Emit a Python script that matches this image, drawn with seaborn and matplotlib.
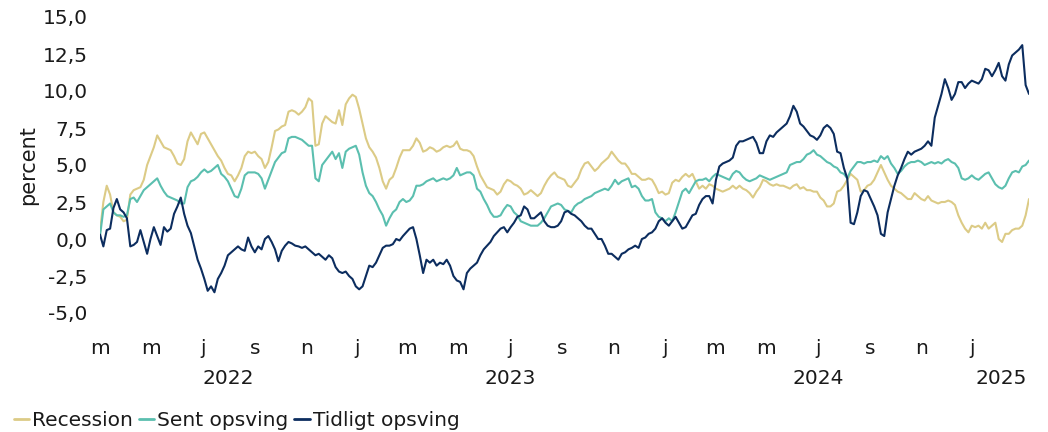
import numpy as np
import pandas as pd
import matplotlib
matplotlib.use("Agg")
import matplotlib.pyplot as plt
import matplotlib.transforms as mtransforms
import seaborn as sns

# ---------------- data ----------------
start_date = "2022-03-01"
step = "4D"

recession = [
    0.5, 2.5, 3.6, 3.0, 1.8, 1.6, 1.5, 1.2, 1.3, 3.0,
    3.3, 3.4, 3.5, 4.0, 5.0, 5.6, 6.2, 7.0, 6.6, 6.2,
    6.1, 6.0, 5.6, 5.1, 5.0, 5.4, 6.6, 7.2, 6.8, 6.4,
    7.1, 7.2, 6.8, 6.4, 6.0, 5.6, 5.3, 4.8, 4.4, 4.3,
    3.9, 4.3, 4.8, 5.6, 5.9, 5.8, 5.9, 5.6, 5.4, 4.8,
    5.2, 6.2, 7.3, 7.4, 7.6, 7.7, 8.6, 8.7, 8.6, 8.4,
    8.6, 8.9, 9.5, 9.3, 6.3, 6.4, 7.8, 8.3, 8.1, 7.9,
    7.8, 8.7,
    7.7, 9.1, 9.5, 9.75, 9.6, 8.8, 7.8, 6.8, 6.2, 5.9,
    5.5, 4.8, 3.9, 3.4, 4.0, 4.2, 4.8, 5.5, 6.0, 6.0,
    6.0, 6.3, 6.8, 6.5, 5.9, 6.0, 6.2, 6.1, 5.9, 6.0,
    6.2, 6.3, 6.2, 6.3, 6.6, 6.1, 6.0, 6.0, 5.9, 5.6,
    4.9, 4.3, 3.9, 3.5, 3.4, 3.3, 3.0, 3.2, 3.7, 4.0,
    3.9, 3.7, 3.6, 3.4, 3.0, 3.1, 3.3, 3.1, 2.9, 3.1,
    3.6, 4.0, 4.3, 4.5, 4.2, 4.1, 4.0, 3.6, 3.5, 3.8,
    4.1, 4.7, 5.1, 5.2, 4.9, 4.6, 4.8, 5.1, 5.3, 5.5,
    5.9, 5.6, 5.3, 5.1, 5.1, 4.8, 4.4, 4.4, 4.2, 4.0,
    4.0, 4.1, 4.0, 3.6, 3.1, 3.2, 3.0, 3.1, 3.8, 4.0,
    3.9, 4.2, 4.4, 4.2,
    4.4, 3.9, 3.4, 3.6, 3.4, 3.7, 3.6, 3.4, 3.3, 3.2,
    3.3, 3.4, 3.6, 3.4, 3.6, 3.4, 3.3, 3.1, 2.8, 3.2,
    3.5, 4.0, 3.9, 3.7, 3.6, 3.7, 3.6, 3.6, 3.5, 3.4,
    3.6, 3.7, 3.4, 3.5, 3.3, 3.3, 3.2, 3.2, 2.8, 2.6,
    2.2, 2.2, 2.4, 3.2, 3.3, 3.6, 4.0, 4.4, 4.2, 4.0,
    3.2, 3.3, 3.6, 3.7, 4.0, 4.5, 5.0, 4.5, 4.0, 3.6,
    3.4, 3.2, 3.1, 2.9, 2.7, 2.7, 3.1, 2.9, 2.7, 2.6,
    2.9, 2.6, 2.5, 2.4, 2.5, 2.5, 2.6, 2.5, 2.3, 1.6,
    1.1, 0.7, 0.45, 0.9, 0.8, 0.9, 0.7, 1.1, 0.7, 0.9,
    1.1, 0.0, -0.2, 0.35, 0.35, 0.6, 0.7, 0.7, 0.9, 1.6,
    2.7,
]

sent_opsving = [
    0.2, 2.0, 2.2, 2.4, 1.8, 1.6, 1.6, 1.5, 1.6, 2.7,
    2.8, 2.5, 2.9, 3.3, 3.5, 3.7, 3.9, 4.1, 3.6, 3.2,
    2.9, 2.8, 2.7, 2.6, 2.4, 2.4, 3.5, 3.9, 4.0, 4.2,
    4.5, 4.7, 4.5, 4.6, 4.8, 5.0, 4.4, 4.2, 3.9, 3.4,
    2.9, 2.8, 3.4, 4.3, 4.5, 4.5, 4.5, 4.4, 4.1, 3.4,
    4.0, 4.6, 5.2, 5.5, 5.8, 5.9, 6.8, 6.9, 6.9, 6.8,
    6.7, 6.5, 6.3, 6.3, 4.1, 3.9, 5.0, 5.3, 5.6, 5.9,
    5.4, 5.8,
    4.8, 5.9, 6.1, 6.2, 6.3, 5.7, 4.5, 3.6, 3.1, 2.9,
    2.5, 2.0, 1.6, 0.9, 1.4, 1.8, 2.0, 2.5, 2.7, 2.5,
    2.6, 2.9, 3.6, 3.6, 3.7, 3.9, 4.0, 4.1, 3.9, 4.0,
    4.1, 4.0, 4.1, 4.3, 4.8, 4.3, 4.4, 4.5, 4.5, 4.3,
    3.4, 3.2, 2.7, 2.3, 1.8, 1.5, 1.5, 1.6, 2.0, 2.3,
    2.2, 1.8, 1.6, 1.2, 1.1, 1.0, 0.9, 0.9, 0.9, 1.1,
    1.4, 1.8, 2.2, 2.3, 2.4, 2.3, 2.0, 1.9, 1.8, 2.2,
    2.4, 2.5, 2.7, 2.8, 2.9, 3.1, 3.2, 3.3, 3.4, 3.3,
    3.6, 4.0, 3.7, 3.9, 4.0, 4.1, 3.5, 3.6, 3.4, 2.9,
    2.6, 2.6, 2.7, 1.8, 1.5, 1.4, 1.2, 1.4, 1.2, 1.8,
    2.5, 3.2, 3.4, 3.1,
    3.5, 3.9, 4.0, 4.0, 4.1, 3.9, 4.2, 4.4, 4.3, 4.2,
    4.1, 4.0, 4.4, 4.6, 4.5, 4.2, 4.0, 3.9, 4.0, 4.1,
    4.3, 4.2, 4.1, 4.0, 4.1, 4.2, 4.3, 4.4, 4.5, 5.0,
    5.1, 5.2, 5.2, 5.4, 5.7, 5.8, 6.0, 5.7, 5.6, 5.4,
    5.2, 5.1, 4.9, 4.8, 4.5, 4.4, 4.1, 4.6, 4.9, 5.2,
    5.2, 5.1, 5.2, 5.2, 5.3, 5.2, 5.6, 5.4, 5.6, 5.1,
    4.8, 4.4, 4.6, 4.9, 5.1, 5.2, 5.2, 5.3, 5.2, 5.0,
    5.1, 5.2, 5.1, 5.2, 5.1, 5.3, 5.4, 5.2, 5.1, 4.8,
    4.1, 4.0, 4.1, 4.3, 4.1, 4.0, 4.2, 4.4, 4.5, 4.1,
    3.7, 3.5, 3.4, 3.6, 4.1, 4.5, 4.6, 4.5, 4.9, 5.0,
    5.3,
]

tidligt_opsving = [
    0.3, -0.5, 0.6, 0.7, 2.1, 2.7, 2.0, 1.8, 1.4, -0.5,
    -0.4, -0.2, 0.6, -0.2, -1.0, 0.0, 0.8, 0.2, -0.4, 0.8,
    0.5, 0.7, 1.7, 2.2, 2.8, 1.7, 0.9, 0.4, -0.5, -1.4,
    -2.0, -2.7, -3.5, -3.2, -3.6, -2.7, -2.3, -1.8, -1.1, -0.9,
    -0.7, -0.5, -0.7, -0.8, 0.1, -0.5, -0.9, -0.5, -0.7, 0.0,
    0.2, -0.2, -0.7, -1.5, -0.8, -0.45, -0.2, -0.3, -0.45, -0.5,
    -0.6, -0.5, -0.7, -0.9, -1.1, -1.0, -1.2, -1.4, -1.1, -1.3,
    -1.9, -2.2,
    -2.3, -2.2, -2.5, -2.7, -3.2, -3.4, -3.2, -2.5, -1.8, -1.9,
    -1.6, -1.1, -0.6, -0.45, -0.45, -0.35, 0.0, -0.1, 0.2, 0.45,
    0.7, 0.8, 0.0, -1.1, -2.3, -1.4, -1.6, -1.4, -1.8, -1.6,
    -1.7, -1.4, -1.8, -2.5, -2.8, -2.9, -3.4, -2.3, -2.0, -1.8,
    -1.6, -1.1, -0.7, -0.45, -0.2, 0.2, 0.45, 0.7, 0.8, 0.45,
    0.8, 1.1, 1.5, 1.6, 2.2, 2.0, 1.4, 1.4, 1.6, 1.8,
    1.2, 0.9, 0.8, 0.8, 0.9, 1.2, 1.8, 1.9, 1.7, 1.6,
    1.4, 1.2, 0.9, 0.7, 0.7, 0.35, 0.0, 0.0, -0.45, -1.0,
    -1.0, -1.2, -1.4, -1.0, -0.9, -0.7, -0.6, -0.45, -0.6, 0.0,
    0.1, 0.35, 0.45, 0.7, 1.2, 1.4, 1.1, 0.9, 1.2, 1.5,
    1.1, 0.7, 0.8, 1.2,
    1.6, 1.7, 2.3, 2.7, 2.9, 2.9, 2.4, 4.0, 4.9, 5.1,
    5.2, 5.3, 5.5, 6.3, 6.6, 6.6, 6.7, 6.8, 6.9, 6.5,
    5.8, 5.8, 6.6, 7.0, 6.9, 7.2, 7.4, 7.6, 7.8, 8.3,
    9.0, 8.6, 7.8, 7.6, 7.3, 7.0, 6.9, 6.7, 7.0, 7.5,
    7.7, 7.5, 7.1, 5.9, 5.8, 4.8, 4.1, 1.1, 1.0, 1.8,
    2.9, 3.3, 3.2, 2.7, 2.2, 1.6, 0.35, 0.2, 1.8, 2.7,
    3.6, 4.3, 4.8, 5.4, 5.9, 5.7, 5.9, 6.0, 6.1, 6.3,
    6.6, 6.3, 8.2, 9.0, 9.8, 10.8, 10.2, 9.4, 9.8, 10.6,
    10.6, 10.2, 10.5, 10.7, 10.6, 10.5, 10.8, 11.5, 11.4, 11.0,
    11.4, 11.9, 11.0, 10.7, 11.8, 12.4, 12.6, 12.8, 13.1, 10.4,
    9.8,
]

series_names = ["Recession", "Sent opsving", "Tidligt opsving"]
series_values = [recession, sent_opsving, tidligt_opsving]
series_colors = ["#DCCB86", "#5BBFAF", "#0C2D5F"]

y_ticks = [-5.0, -2.5, 0.0, 2.5, 5.0, 7.5, 10.0, 12.5, 15.0]
month_initials = ["j", "f", "m", "a", "m", "j", "j", "a", "s", "o", "n", "d"]
tick_start, tick_end, tick_freq = "2022-03-01", "2025-01-01", "2MS"
y_label = "percent"

# ---------------- frame ----------------
frames = []
for name, vals in zip(series_names, series_values):
    d = pd.date_range(start_date, periods=len(vals), freq=step)
    frames.append(pd.DataFrame({"date": d, "value": vals, "serie": name}))
df = pd.concat(frames, ignore_index=True)

# ---------------- plot ----------------
sns.set_theme(style="white")
plt.rcParams["font.family"] = ["DejaVu Sans"]
text_color = "#1a1a1a"

fig = plt.figure(figsize=(10.48, 4.32), dpi=100)
ax = fig.add_axes([100 / 1048, 1 - 313 / 432, 929 / 1048, 296 / 432])

sns.lineplot(data=df, x="date", y="value", hue="serie", hue_order=series_names,
             palette=dict(zip(series_names, series_colors)), linewidth=1.5,
             ax=ax, legend=False)

ax.set_ylim(-5, 15)
ax.set_xlim(df["date"].min(), df["date"].max())
sns.despine(ax=ax, left=True, bottom=True)
ax.grid(False)

ax.set_yticks(y_ticks)
ax.set_yticklabels([f"{v:.1f}".replace(".", ",") for v in y_ticks],
                   fontsize=14.5, color=text_color)
ax.set_ylabel(y_label, fontsize=15, color=text_color, labelpad=3)
ax.set_xlabel("")

mticks = pd.date_range(tick_start, tick_end, freq=tick_freq)
ax.set_xticks(mticks)
ax.set_xticklabels([month_initials[d.month - 1] for d in mticks],
                   fontsize=14.5, color=text_color)
ax.tick_params(axis="both", length=0)
ax.tick_params(axis="x", pad=19)
ax.tick_params(axis="y", pad=9)

# year labels centred on the visible part of each year
dmin, dmax = df["date"].min(), df["date"].max()
trans = mtransforms.blended_transform_factory(ax.transData, ax.transAxes)
for yr in range(dmin.year, dmax.year + 1):
    a = max(pd.Timestamp(f"{yr}-01-01"), dmin)
    b = min(pd.Timestamp(f"{yr}-12-31"), dmax)
    mid = a + (b - a) / 2
    ax.text(mid, -0.19, str(yr), transform=trans, ha="center", va="top",
            fontsize=14.5, color=text_color)

handles = [plt.Line2D([], [], color=c, linewidth=2) for c in series_colors]
fig.legend(handles, series_names, loc="lower left", bbox_to_anchor=(14 / 1048, 0.005),
           ncol=3, frameon=False, fontsize=14.5, handlelength=0.75,
           handletextpad=0.15, columnspacing=0.3, borderpad=0, borderaxespad=0,
           labelcolor=text_color)

fig.savefig("out.png", dpi=100)
